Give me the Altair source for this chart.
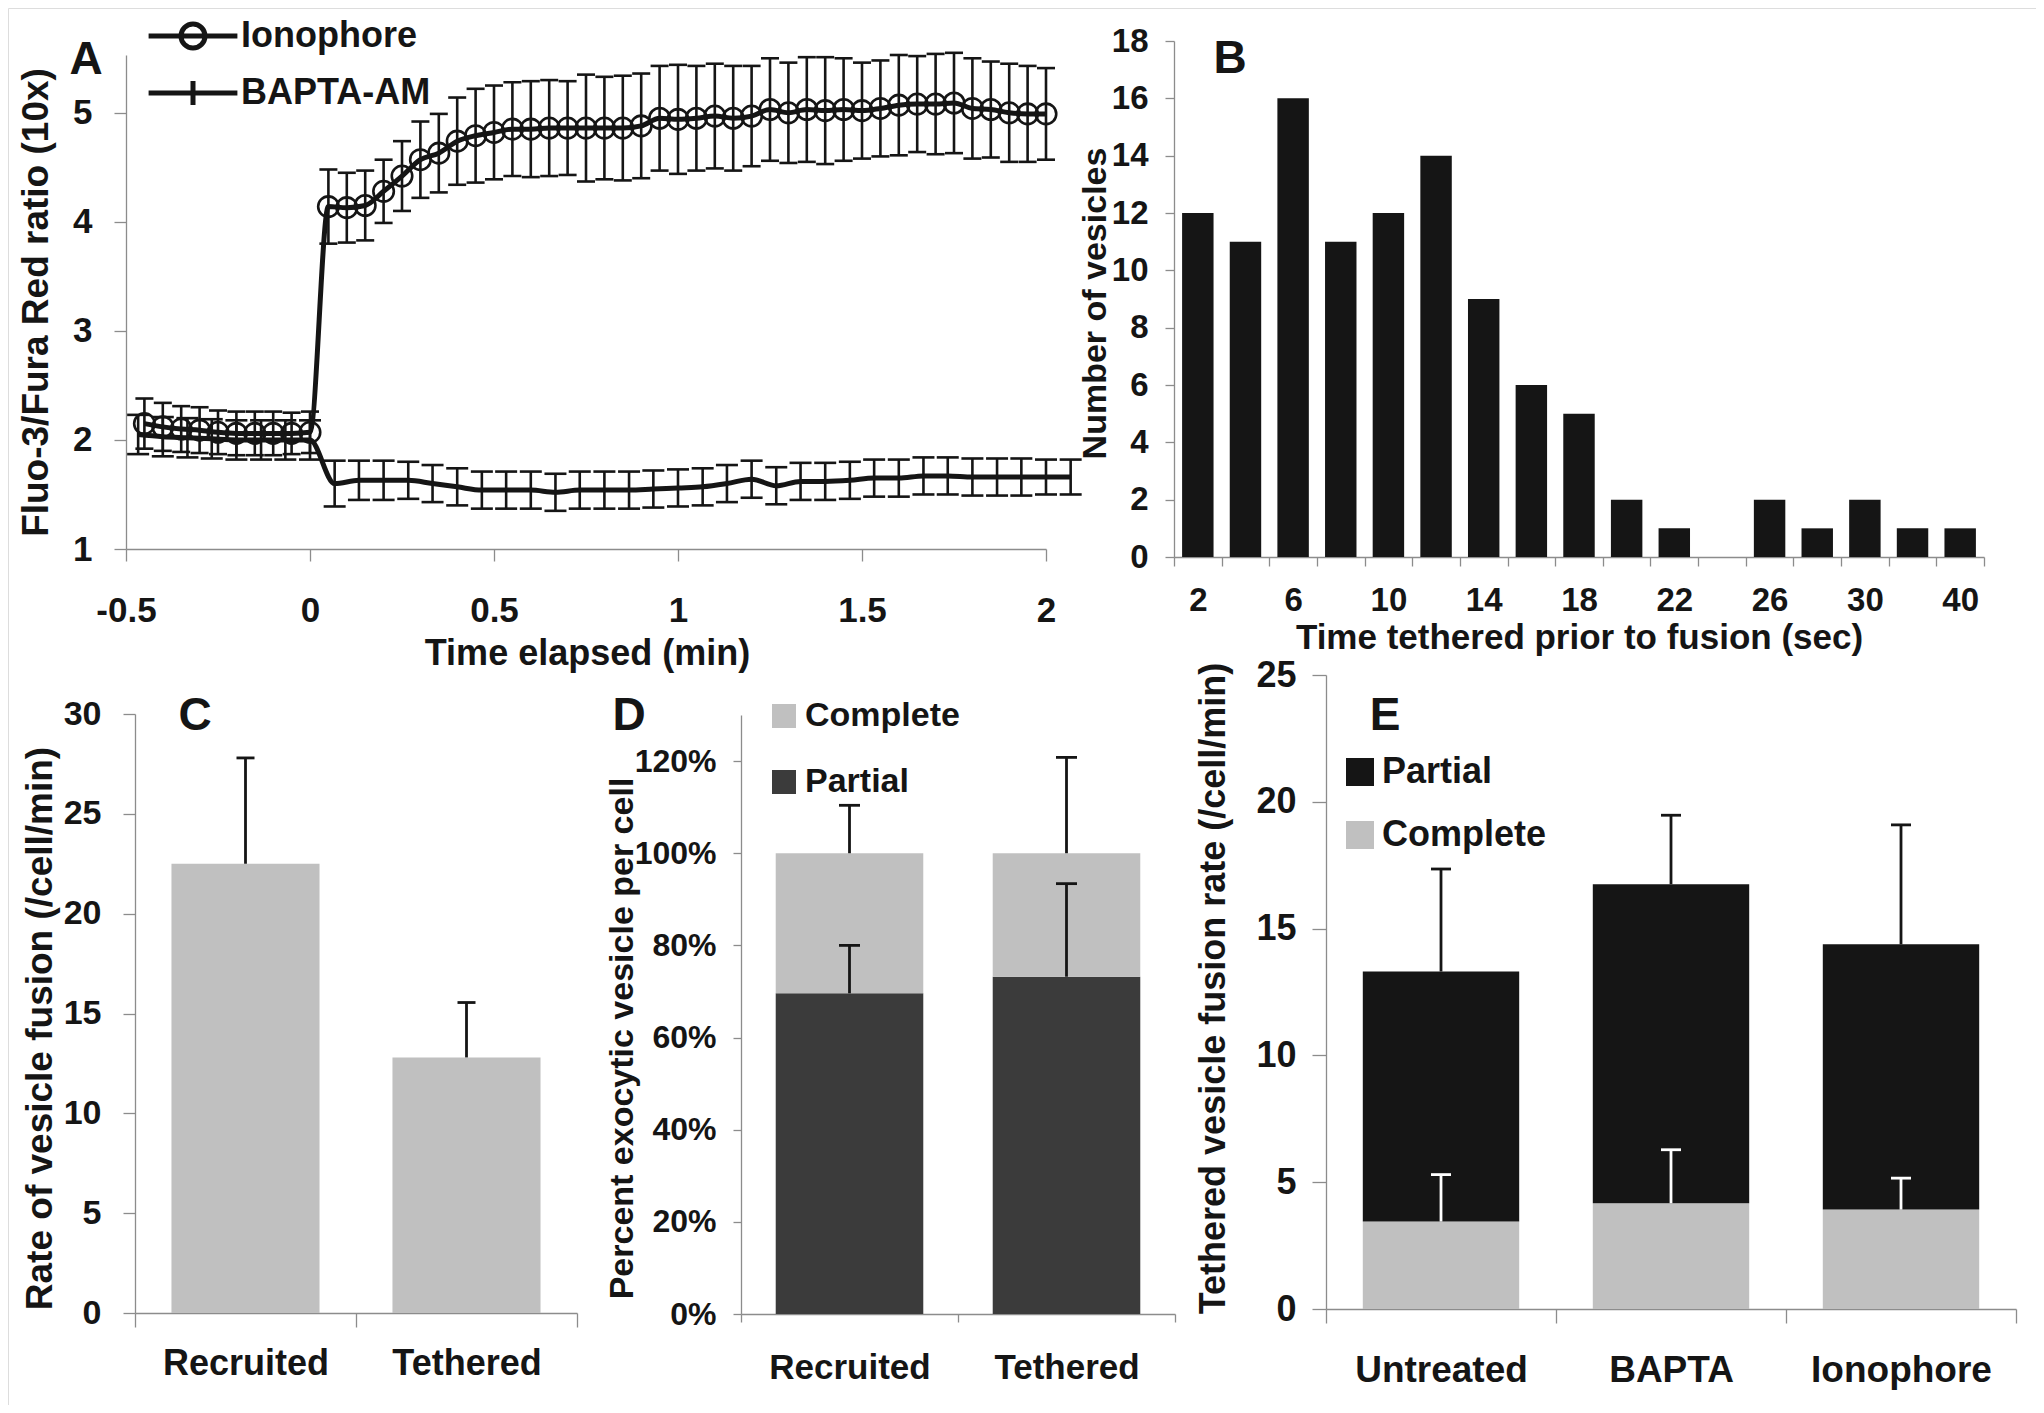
import altair as alt
import pandas as pd

W, H, M = 2028, 1397, 8
FONT = "Liberation Sans"
INK = "#151515"
GRAY = "#8c8c8c"
LIGHT = "#c0c0c0"
DARK = "#3b3b3b"


def px(v):
    return v - M


# ---------------- data ----------------
# Panel A
ion_t = [-0.45, -0.40, -0.35, -0.30, -0.25, -0.20, -0.15, -0.10, -0.05, 0.00,
         0.05, 0.10, 0.15, 0.20, 0.25, 0.30, 0.35, 0.40, 0.45, 0.50,
         0.55, 0.60, 0.65, 0.70, 0.75, 0.80, 0.85, 0.90, 0.95, 1.00,
         1.05, 1.10, 1.15, 1.20, 1.25, 1.30, 1.35, 1.40, 1.45, 1.50,
         1.55, 1.60, 1.65, 1.70, 1.75, 1.80, 1.85, 1.90, 1.95, 2.00]
ion_v = [2.15, 2.12, 2.10, 2.09, 2.07, 2.06, 2.06, 2.06, 2.06, 2.07,
         4.14, 4.13, 4.15, 4.28, 4.42, 4.57, 4.63, 4.74, 4.79, 4.82,
         4.85, 4.85, 4.86, 4.86, 4.86, 4.86, 4.86, 4.88, 4.95, 4.94,
         4.95, 4.97, 4.95, 4.97, 5.03, 5.00, 5.03, 5.02, 5.03, 5.02,
         5.04, 5.07, 5.08, 5.08, 5.09, 5.04, 5.03, 5.00, 4.99, 4.99]
ion_e = [0.23, 0.22, 0.21, 0.21, 0.20, 0.20, 0.20, 0.20, 0.19, 0.19,
         0.34, 0.32, 0.32, 0.29, 0.32, 0.35, 0.36, 0.40, 0.43, 0.43,
         0.43, 0.44, 0.44, 0.43, 0.49, 0.47, 0.48, 0.48, 0.48, 0.50,
         0.48, 0.48, 0.48, 0.46, 0.47, 0.46, 0.48, 0.49, 0.47, 0.44,
         0.44, 0.46, 0.44, 0.46, 0.46, 0.46, 0.44, 0.45, 0.44, 0.42]
bap_t = [-0.467, -0.400, -0.333, -0.267, -0.200, -0.133, -0.067, 0.000,
         0.067, 0.133, 0.200, 0.267, 0.333, 0.400, 0.467, 0.533, 0.600, 0.667,
         0.733, 0.800, 0.867, 0.933, 1.000, 1.067, 1.133, 1.200, 1.267, 1.333,
         1.400, 1.467, 1.533, 1.600, 1.667, 1.733, 1.800, 1.867, 1.933, 2.000, 2.067]
bap_v = [2.05, 2.03, 2.02, 2.01, 2.00, 2.00, 2.00, 2.00,
         1.60, 1.63, 1.63, 1.63, 1.60, 1.57, 1.54, 1.54, 1.54, 1.52,
         1.54, 1.54, 1.54, 1.55, 1.56, 1.57, 1.60, 1.64, 1.58, 1.62,
         1.62, 1.63, 1.65, 1.65, 1.67, 1.67, 1.66, 1.66, 1.66, 1.66, 1.66]
bap_e = [0.18, 0.18, 0.18, 0.18, 0.18, 0.18, 0.18, 0.18,
         0.21, 0.18, 0.18, 0.17, 0.17, 0.17, 0.17, 0.17, 0.17, 0.17,
         0.17, 0.17, 0.17, 0.17, 0.17, 0.17, 0.17, 0.17, 0.17, 0.17,
         0.17, 0.17, 0.17, 0.17, 0.17, 0.17, 0.17, 0.17, 0.17, 0.16, 0.16]
a_series = ["Ionophore", "BAPTA-AM"]
a_ticks = [-0.5, 0, 0.5, 1, 1.5, 2]

# Panel B
b_cats = ["2", "4", "6", "8", "10", "12", "14", "16", "18", "20",
          "22", "24", "26", "28", "30", "35", "40"]
b_counts = [12, 11, 16, 11, 12, 14, 9, 6, 5, 2, 1, 0, 2, 1, 2, 1, 1]
b_shown = ["2", "6", "10", "14", "18", "22", "26", "30", "40"]

# Panel C
c_cats = ["Recruited", "Tethered"]
c_vals = [22.5, 12.8]
c_err_top = [27.8, 15.55]

# Panel D (fractions)
d_cats = ["Recruited", "Tethered"]
d_partial = [0.696, 0.732]
d_complete = [0.304, 0.268]
d_partial_err_top = [0.800, 0.934]
d_total_err_top = [1.104, 1.208]

# Panel E
e_cats = ["Untreated", "BAPTA", "Ionophore"]
e_complete = [3.45, 4.17, 3.92]
e_partial = [9.86, 12.58, 10.46]
e_total_err_top = [17.35, 19.47, 19.09]
e_complete_err_top = [5.30, 6.28, 5.16]


# ---------------- helpers ----------------
def style(label_size, tick, pad):
    return dict(labelFont=FONT, labelFontSize=label_size, labelFontWeight="bold",
                labelColor=INK, labelPadding=pad, labelLimit=600, labelOverlap=False,
                labelFlush=False, tickSize=tick, tickColor=GRAY, tickWidth=1.3,
                domainColor=GRAY, domainWidth=1.3, grid=False,
                titleFont=FONT, titleFontWeight="bold", titleColor=INK, titleLimit=2000)


def left_axis(x_full, values, label_size, tick, pad, title, title_size,
              title_right_full, title_center_full, fmt=None):
    kw = style(label_size, tick, pad)
    kw.update(orient="left", offset=-px(x_full), values=values, title=title,
              titleFontSize=title_size, titleX=title_right_full - x_full,
              titleY=px(title_center_full), titleAlign="center", titleBaseline="bottom",
              titleAngle=270)
    if fmt:
        kw["format"] = fmt
    return alt.Axis(**kw)


def bottom_axis(y_full, label_size, tick, pad, title=None, title_size=36,
                title_cx_full=0, title_top_full=0, **extra):
    kw = style(label_size, tick, pad)
    kw.update(orient="bottom", offset=px(y_full) - H, labelAngle=0)
    if title:
        kw.update(title=title, titleFontSize=title_size, titleX=px(title_cx_full),
                  titleY=title_top_full - y_full, titleAlign="center", titleBaseline="top")
    else:
        kw.update(title=None)
    kw.update(extra)
    return alt.Axis(**kw)


def letter(ch, xf, yf, size=46):
    return alt.Chart(alt.Data(values=[{"k": ch}])).mark_text(
        text=ch, font=FONT, fontSize=size, fontWeight="bold", color=INK,
        align="center", baseline="middle").encode(x=alt.value(px(xf)), y=alt.value(px(yf)))


# ---------------- Panel A ----------------
dfA = pd.concat([
    pd.DataFrame({"t": ion_t, "v": ion_v, "e": ion_e, "series": a_series[0]}),
    pd.DataFrame({"t": bap_t, "v": bap_v, "e": bap_e, "series": a_series[1]}),
], ignore_index=True)
dfA["lo"] = dfA["v"] - dfA["e"]
dfA["hi"] = dfA["v"] + dfA["e"]

sxA = alt.Scale(domain=[-0.5, 2], range=[px(126), px(1046)], nice=False, zero=False)
syA = alt.Scale(domain=[1, 5.53], range=[px(549), px(55)], nice=False, zero=False)
axA_x = bottom_axis(549, 35, 12, 32, title="Time elapsed (min)", title_size=36,
                    title_cx_full=587, title_top_full=636, values=a_ticks,
                    labelExpr="(datum.value < 0 ? '-' : '') + format(abs(datum.value), '~g')")
axA_y = left_axis(126, [1, 2, 3, 4, 5], 35, 12, 22, "Fluo-3/Fura Red ratio (10x)", 37, 55, 302)

baseA = alt.Chart(dfA)
xA = alt.X("t:Q", scale=sxA, axis=axA_x)


def yA(field):
    return alt.Y(f"{field}:Q", scale=syA, axis=axA_y)


errA = baseA.mark_rule(color=INK, strokeWidth=2.6).encode(x=xA, y=yA("lo"), y2="hi:Q")
capsA = []
for ser, wcap in [(a_series[0], 18), (a_series[1], 22)]:
    for fld in ["hi", "lo"]:
        capsA.append(baseA.transform_filter(alt.datum.series == ser).mark_tick(
            orient="horizontal", size=wcap, thickness=2.6, color=INK, opacity=1).encode(
            x=xA, y=yA(fld)))
lineA = baseA.mark_line(color=INK, strokeWidth=5, interpolate="monotone").encode(
    x=xA, y=yA("v"), detail="series:N")
ptsA = baseA.transform_filter(alt.datum.series == a_series[0]).mark_point(
    shape="circle", filled=False, size=420, strokeWidth=2.6, color=INK, opacity=1).encode(
    x=xA, y=yA("v"))
PATH_ION = "M-3.7,0L3.7,0M-1,0A1,1,0,1,1,1,0A1,1,0,1,1,-1,0"
PATH_BAP = "M-3.7,0L3.7,0M0,-1L0,1"
legA = baseA.transform_filter("false").mark_point(
    filled=False, color=INK, strokeWidth=5, opacity=1).encode(
    shape=alt.Shape("series:N", scale=alt.Scale(domain=a_series, range=[PATH_ION, PATH_BAP]),
                    legend=alt.Legend(orient="none", legendX=167, legendY=10, title=None,
                                      padding=0, labelFont=FONT, labelFontSize=36,
                                      labelFontWeight="bold", labelColor=INK, labelOffset=30,
                                      labelLimit=600, rowPadding=13, symbolSize=576,
                                      symbolStrokeWidth=5, symbolStrokeColor=INK,
                                      symbolFillColor="transparent", symbolOpacity=1)))
panelA = alt.layer(errA, *capsA, lineA, ptsA, legA)

# ---------------- Panel B ----------------
dfB = pd.DataFrame({"bin": b_cats, "n": b_counts})
sxB = alt.Scale(domain=b_cats, range=[px(1174), px(1984)], paddingInner=0, paddingOuter=0)
syB = alt.Scale(domain=[0, 18], range=[px(557), px(41)], nice=False, zero=True)
shown = ",".join(f"'{s}'" for s in b_shown)
axB_x = bottom_axis(557, 33, 9, 18, title="Time tethered prior to fusion (sec)", title_size=35,
                    title_cx_full=1579, title_top_full=620, tickBand="extent",
                    labelExpr=f"indexof([{shown}], datum.label) >= 0 ? datum.label : ''")
axB_y = left_axis(1174, list(range(0, 19, 2)), 33, 9, 17, "Number of vesicles", 34, 1112, 303)
panelB = alt.Chart(dfB).mark_bar(color=INK, width=alt.RelativeBandSize(0.66)).encode(
    x=alt.X("bin:N", sort=None, scale=sxB, axis=axB_x),
    y=alt.Y("n:Q", scale=syB, axis=axB_y))

# ---------------- Panel C ----------------
dfC = pd.DataFrame({"cat": c_cats, "v": c_vals, "top": c_err_top})
sxC = alt.Scale(domain=c_cats, range=[px(135), px(577)], paddingInner=0, paddingOuter=0)
syC = alt.Scale(domain=[0, 30], range=[px(1313), px(714)], nice=False)
axC_x = bottom_axis(1313, 36, 14, 19, tickBand="extent")
axC_y = left_axis(135, list(range(0, 31, 5)), 34, 12, 22,
                  "Rate of vesicle fusion (/cell/min)", 37, 59, 1028)
baseC = alt.Chart(dfC)
xC = alt.X("cat:N", sort=None, scale=sxC, axis=axC_x)
panelC = alt.layer(
    baseC.mark_bar(color=LIGHT, width=alt.RelativeBandSize(0.67)).encode(
        x=xC, y=alt.Y("v:Q", scale=syC, axis=axC_y)),
    baseC.mark_rule(color=INK, strokeWidth=2.8).encode(
        x=xC, y=alt.Y("v:Q", scale=syC, axis=axC_y), y2="top:Q"),
    baseC.mark_tick(orient="horizontal", size=18, thickness=2.8, color=INK, opacity=1).encode(
        x=xC, y=alt.Y("top:Q", scale=syC, axis=axC_y)),
)

# ---------------- Panel D ----------------
dfD = pd.DataFrame({
    "cat": d_cats + d_cats,
    "part": ["Partial"] * 2 + ["Complete"] * 2,
    "val": d_partial + d_complete,
    "ord": [0, 0, 1, 1],
})
dfDerr = pd.DataFrame({
    "cat": d_cats + d_cats,
    "lo": d_partial + [p + c for p, c in zip(d_partial, d_complete)],
    "hi": d_partial_err_top + d_total_err_top,
})
sxD = alt.Scale(domain=d_cats, range=[px(741), px(1175)], paddingInner=0, paddingOuter=0)
syD = alt.Scale(domain=[0, 1.3], range=[px(1314), px(715)], nice=False)
axD_x = bottom_axis(1314, 35, 8, 28, tickBand="extent")
axD_y = left_axis(741, [0, 0.2, 0.4, 0.6, 0.8, 1.0, 1.2], 32, 8, 17,
                  "Percent exocytic vesicle per cell", 34, 639, 1038, fmt=".0%")
xD = alt.X("cat:N", sort=None, scale=sxD, axis=axD_x)
panelD = alt.layer(
    alt.Chart(dfD).mark_bar(width=alt.RelativeBandSize(0.68)).encode(
        x=xD,
        y=alt.Y("val:Q", stack="zero", scale=syD, axis=axD_y),
        color=alt.Color("part:N", scale=alt.Scale(domain=["Complete", "Partial"], range=[LIGHT, DARK]),
                        legend=alt.Legend(orient="none", legendX=px(767), legendY=691, title=None,
                                          padding=0, symbolType="square", symbolSize=576,
                                          symbolStrokeWidth=0, symbolOpacity=1,
                                          labelFont=FONT, labelFontSize=34, labelFontWeight="bold",
                                          labelColor=INK, labelOffset=4, labelLimit=600,
                                          rowPadding=32)),
        order=alt.Order("ord:Q")),
    alt.Chart(dfDerr).mark_rule(color=INK, strokeWidth=2.8).encode(
        x=xD, y=alt.Y("lo:Q", scale=syD, axis=axD_y), y2="hi:Q"),
    alt.Chart(dfDerr).mark_tick(orient="horizontal", size=21, thickness=2.8, color=INK, opacity=1).encode(
        x=xD, y=alt.Y("hi:Q", scale=syD, axis=axD_y)),
)

# ---------------- Panel E ----------------
dfE = pd.DataFrame({
    "cat": e_cats + e_cats,
    "part": ["Complete"] * 3 + ["Partial"] * 3,
    "val": e_complete + e_partial,
    "ord": [0, 0, 0, 1, 1, 1],
})
dfEtot = pd.DataFrame({"cat": e_cats,
                       "lo": [c + p for c, p in zip(e_complete, e_partial)],
                       "hi": e_total_err_top})
dfEcom = pd.DataFrame({"cat": e_cats, "lo": e_complete, "hi": e_complete_err_top})
sxE = alt.Scale(domain=e_cats, range=[px(1326), px(2016)], paddingInner=0, paddingOuter=0)
syE = alt.Scale(domain=[0, 25], range=[px(1309), px(675)], nice=False)
axE_x = bottom_axis(1309, 37, 14, 29, tickBand="extent")
axE_y = left_axis(1326, list(range(0, 26, 5)), 36, 14, 16,
                  "Tethered vesicle fusion rate  (/cell/min)", 36, 1232, 988)
xE = alt.X("cat:N", sort=None, scale=sxE, axis=axE_x)
errE = []
for dfe, col in [(dfEtot, INK), (dfEcom, "#ffffff")]:
    errE.append(alt.Chart(dfe).mark_rule(color=col, strokeWidth=2.8).encode(
        x=xE, y=alt.Y("lo:Q", scale=syE, axis=axE_y), y2="hi:Q"))
    errE.append(alt.Chart(dfe).mark_tick(orient="horizontal", size=20, thickness=2.8, color=col,
                                         opacity=1).encode(
        x=xE, y=alt.Y("hi:Q", scale=syE, axis=axE_y)))
panelE = alt.layer(
    alt.Chart(dfE).mark_bar(width=alt.RelativeBandSize(0.68)).encode(
        x=xE,
        y=alt.Y("val:Q", stack="zero", scale=syE, axis=axE_y),
        color=alt.Color("part:N", scale=alt.Scale(domain=["Partial", "Complete"], range=[INK, LIGHT]),
                        legend=alt.Legend(orient="none", legendX=px(1342), legendY=746, title=None,
                                          padding=0, symbolType="square", symbolSize=784,
                                          symbolStrokeWidth=0, symbolOpacity=1,
                                          labelFont=FONT, labelFontSize=36, labelFontWeight="bold",
                                          labelColor=INK, labelOffset=4, labelLimit=600,
                                          rowPadding=27)),
        order=alt.Order("ord:Q")),
    *errE,
)

chart = alt.layer(
    panelA, panelB, panelC, panelD, panelE,
    letter("A", 86, 60), letter("B", 1230, 59), letter("C", 195, 716),
    letter("D", 629, 716), letter("E", 1385, 716),
).resolve_scale(
    x="independent", y="independent", color="independent", shape="independent"
).properties(
    width=W, height=H, autosize=alt.AutoSizeParams(type="none"), padding=0
).configure_view(stroke=None).configure(background="white")

chart.save("out.html", embed_options={"renderer": "svg", "actions": False})
